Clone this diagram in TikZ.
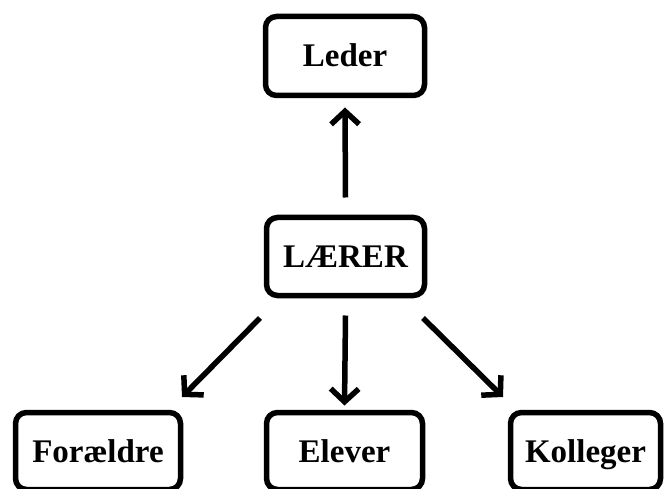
\documentclass[tikz,border=0pt]{standalone}
\usepackage{fontspec}
\setmainfont{Liberation Serif}
\usetikzlibrary{arrows.meta}
\begin{document}
\begin{tikzpicture}[x=1pt,y=1pt,
  box/.style={draw=black, line width=5.5pt, rounded corners=11pt, outer sep=0pt,
    inner sep=0pt, text height=22pt, text depth=0pt,
    font=\bfseries\fontsize{33}{36}\selectfont, fill=white},
  arr/.style={line width=5.5pt, -{Straight Barb[length=13pt,width=28pt]}}]
\useasboundingbox (0,0) rectangle (664,488);
\fill[white] (0,0) rectangle (664,488);
\clip (0,0) rectangle (664,488);

\node[box, minimum width=159pt, minimum height=79pt] (ld) at (345,432) {Leder};
\node[box, minimum width=158pt, minimum height=78pt] (lr) at (345.5,231.5) {LÆRER};
\node[box, minimum width=165pt, minimum height=77pt] (fo) at (98,37) {Forældre};
\node[box, minimum width=156pt, minimum height=77pt] (el) at (344.5,37) {Elever};
\node[box, minimum width=150pt, minimum height=77pt] (ko) at (585.5,37) {Kolleger};

\draw[arr] ([yshift=20pt]lr.north) -- ([yshift=-12pt]ld.south);
\draw[arr] ([yshift=-20pt]lr.south) -- ([yshift=7pt]el.north);
\draw[arr] ([shift={(-85.5,-22.5)}]lr.south) -- ([shift={(84,15.5)}]fo.north);
\draw[arr] ([shift={(77.5,-22.5)}]lr.south) -- ([shift={(-82.5,15.5)}]ko.north);
\end{tikzpicture}
\end{document}
